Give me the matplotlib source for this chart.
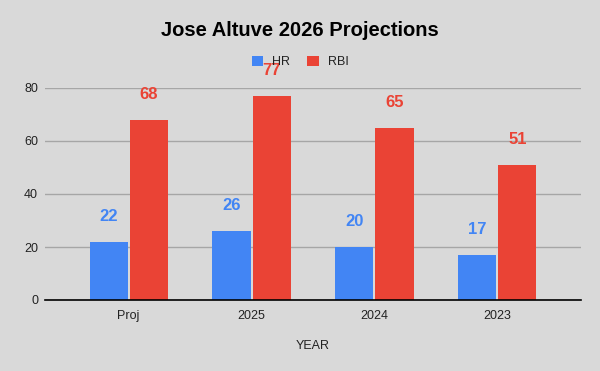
import matplotlib
matplotlib.use("Agg")
import matplotlib.pyplot as plt
import numpy as np

categories = ["Proj", "2025", "2024", "2023"]
hr = [22, 26, 20, 17]
rbi = [68, 77, 65, 51]
yticks = [0, 20, 40, 60, 80]

BG = "#d9d9d9"
BLUE = "#4285f4"
RED = "#ea4335"

plt.rcParams['font.family'] = ['Liberation Sans', 'DejaVu Sans']

fig = plt.figure(figsize=(6, 3.71), dpi=100, facecolor=BG)
ax = fig.add_axes([45/600, 1-300/371, 536/600, 212/371])
ax.set_facecolor(BG)

x = np.arange(len(categories))
w = 0.31
gap = 0.008
b1 = ax.bar(x - w/2 - gap, hr, w, color=BLUE, label="HR", zorder=3)
b2 = ax.bar(x + w/2 + gap, rbi, w, color=RED, label="RBI", zorder=3)

for bars, vals, c in ((b1, hr, BLUE), (b2, rbi, RED)):
    for r, v in zip(bars, vals):
        ax.annotate(f"{v}", (r.get_x() + r.get_width()/2, v), xytext=(0, 18.5),
                    textcoords="offset points", ha="center", va="center",
                    fontsize=12, fontweight="bold", color=c, zorder=5,
                    annotation_clip=False)

ax.set_xlim(-0.68, 3.68)
ax.set_ylim(0, 80)
ax.set_yticks(yticks)
ax.set_xticks(x)
ax.set_xticklabels(categories)
ax.grid(axis="y", color="#a6a6a6", linewidth=1, zorder=0)
for s in ("top", "right", "left"):
    ax.spines[s].set_visible(False)
ax.spines["bottom"].set_color("#000000")
ax.spines["bottom"].set_linewidth(1.2)
ax.spines["bottom"].set_zorder(4)
ax.tick_params(axis="both", length=0, labelsize=9, colors="#222222")
ax.tick_params(axis="x", pad=7)
ax.tick_params(axis="y", pad=5)
ax.set_xlabel("YEAR", fontsize=9, color="#222222", labelpad=13)

fig.text(0.5, 1-31/371, "Jose Altuve 2026 Projections", ha="center", va="center",
         fontsize=14.5, fontweight="bold", color="#000000")

leg = fig.legend(handles=[b1, b2], labels=["HR", "RBI"], loc="center",
                 bbox_to_anchor=(300/600, 1-62/371), ncol=2, frameon=False,
                 fontsize=9, handlelength=0.95, handleheight=0.95,
                 handletextpad=0.7, columnspacing=1.35, labelcolor="#222222")

fig.savefig("out.png", dpi=100, facecolor=BG)
